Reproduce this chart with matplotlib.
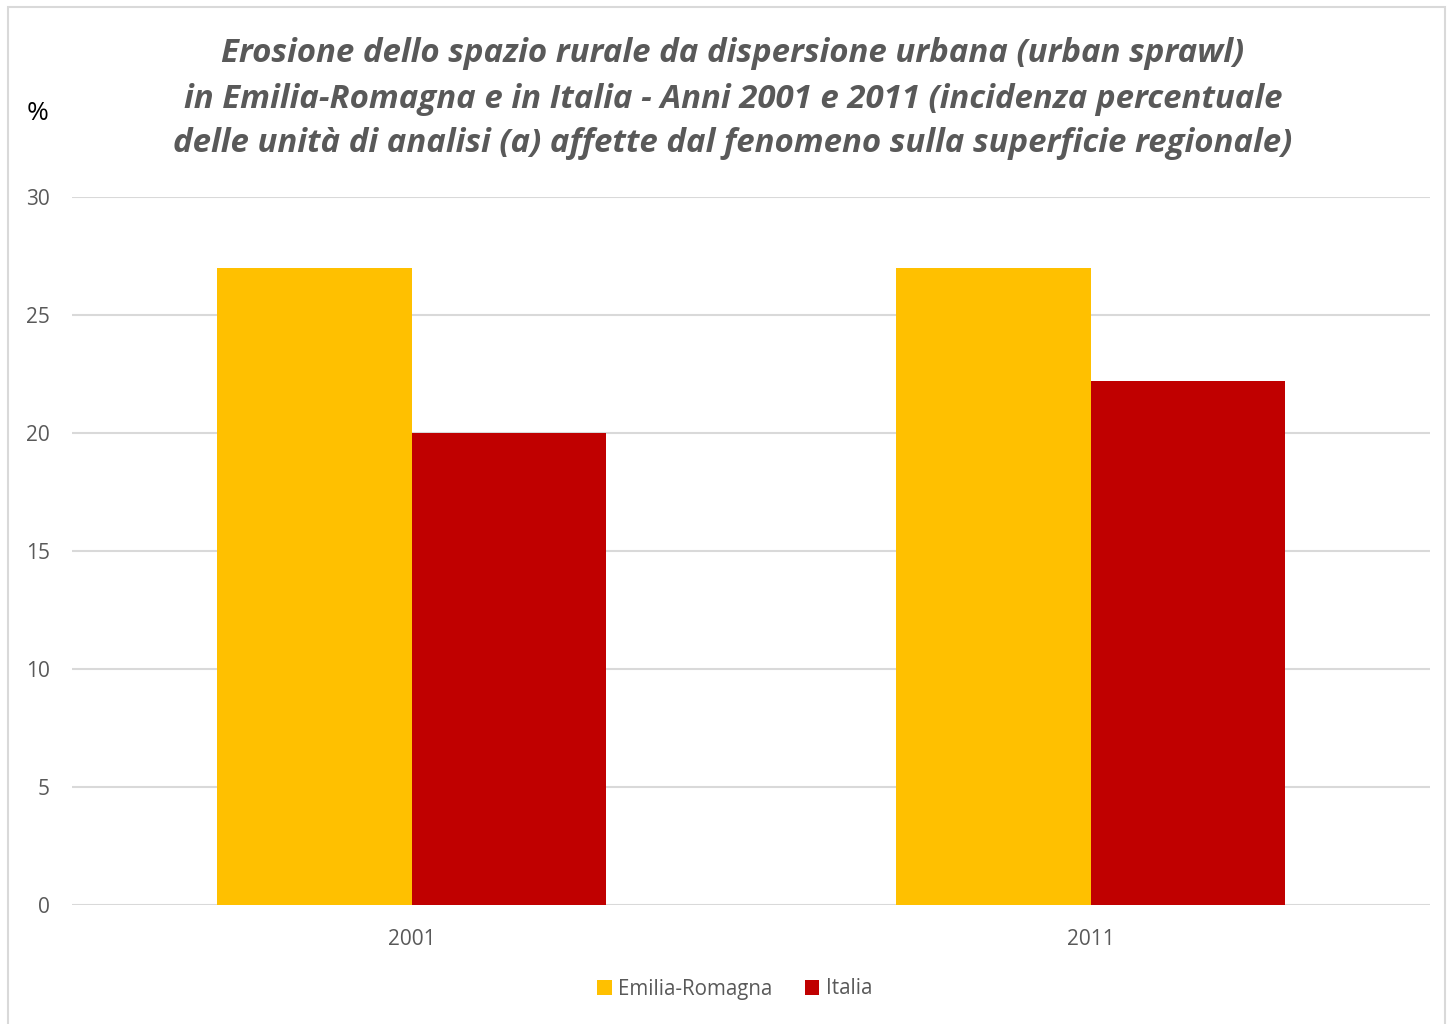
import matplotlib.pyplot as plt
import numpy as np
from matplotlib.patches import Rectangle

plt.rcParams['font.family'] = ['Open Sans', 'DejaVu Sans']

anni = ['2001', '2011']
emilia_romagna = [27.0, 27.0]
italia = [20.0, 22.2]
serie = ['Emilia-Romagna', 'Italia']
colori = ['#FFC000', '#C00000']
grigio = '#595959'

titolo = ('Erosione dello spazio rurale da dispersione urbana (urban sprawl)\n'
          'in Emilia-Romagna e in Italia - Anni 2001 e 2011 (incidenza percentuale\n'
          'delle unità di analisi (a) affette dal fenomeno sulla superficie regionale)')

fig = plt.figure(figsize=(14.51, 10.24), dpi=100)
ax = fig.add_axes([72 / 1451, 1 - 905 / 1024, (1430 - 72) / 1451, (905 - 197) / 1024])

x = np.arange(len(anni))
w = 0.287
ax.bar(x - w / 2, emilia_romagna, w, color=colori[0], label=serie[0], zorder=3)
ax.bar(x + w / 2, italia, w, color=colori[1], label=serie[1], zorder=3)

ax.set_xlim(-0.5, 1.5)
ax.set_ylim(0, 30)
ax.set_yticks(range(0, 31, 5))
ax.set_xticks(x)
ax.set_xticklabels(anni)
ax.yaxis.grid(True, color='#D9D9D9', linewidth=1.5, zorder=0)
for s in ax.spines.values():
    s.set_visible(False)
ax.tick_params(axis='both', length=0, labelsize=15, colors=grigio)
ax.tick_params(axis='y', pad=16)
ax.tick_params(axis='x', pad=17)

fig.text(38 / 1451, 1 - 113 / 1024, '%', fontsize=19, color='black',
         ha='center', va='center')
fig.text(733 / 1451, 1 - 99 / 1024, titolo, fontsize=23.8, fontweight='bold',
         fontstyle='italic', color=grigio, ha='center', va='center',
         linespacing=1.48)

ax.legend(loc='center', bbox_to_anchor=(0.488, (905 - 989) / 708), ncol=2,
          frameon=False, fontsize=14.8, labelcolor=grigio, handlelength=0.7,
          handleheight=0.7, handletextpad=0.3, columnspacing=1.6)

fig.patches.append(Rectangle((8 / 1451, -0.01), (1445 - 8) / 1451, 1 - 7 / 1024 + 0.01,
                             transform=fig.transFigure, fill=False,
                             edgecolor='#D9D9D9', linewidth=1.5))

fig.savefig('out.png', dpi=100)
